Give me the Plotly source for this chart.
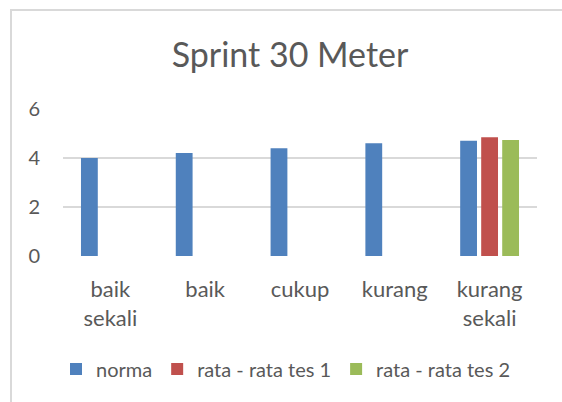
import plotly.graph_objects as go

categories = ["baik<br>sekali", "baik", "cukup", "kurang", "kurang<br>sekali"]
norma = [4.0, 4.2, 4.4, 4.6, 4.7]
tes1 = [None, None, None, None, 4.85]
tes2 = [None, None, None, None, 4.73]
series_names = ["norma", "rata - rata tes 1", "rata - rata tes 2"]
colors = ["#4f81bd", "#c0504d", "#9bbb59"]
y_ticks = [0, 2, 4, 6]

FONT = "Lato, Open Sans, sans-serif"
GREY = "#595959"

fig = go.Figure()
for name, vals, c in zip(series_names, [norma, tes1, tes2], colors):
    fig.add_trace(go.Bar(x=categories, y=vals, name=name, marker_color=c,
                         marker_line_width=0))

W, H = 562, 402
L, R, T, B = 63, 25, 109, 146
pw, ph = W - L - R, H - T - B

fig.update_layout(
    width=W, height=H,
    margin=dict(l=L, r=R, t=T, b=B, autoexpand=False),
    paper_bgcolor="white", plot_bgcolor="white",
    barmode="group", bargap=0.335, bargroupgap=0.2,
    font=dict(family=FONT, size=22, color=GREY),
    title=dict(text="Sprint 30 Meter", x=290 / W, xanchor="center", xref="container",
               y=1 - 55 / H, yanchor="middle", yref="container",
               font=dict(family=FONT, size=34, color=GREY)),
    legend=dict(orientation="h", x=(286 - L) / pw, xanchor="center",
                y=(H - B - 369) / ph, yanchor="middle",
                font=dict(family=FONT, size=20, color=GREY),
                itemwidth=30, tracegroupgap=0),
    showlegend=True,
)
fig.update_xaxes(showgrid=False, showline=False, ticks="", ticklabelstandoff=18,
                 tickfont=dict(family=FONT, size=22, color=GREY))
fig.update_yaxes(range=[0, 6], tickvals=y_ticks, showgrid=True, gridcolor="#d9d9d9",
                 gridwidth=1.5, zeroline=False, showline=False, ticks="",
                 ticklabelstandoff=22,
                 tickfont=dict(family=FONT, size=20, color=GREY))

# outer chart frame
fig.add_shape(type="rect", xref="paper", yref="paper",
              x0=(11 - L) / pw, x1=(W + 20 - L) / pw,
              y0=(H - B - (H + 20)) / ph, y1=(H - B - 10) / ph,
              line=dict(color="#d9d9d9", width=2), fillcolor="rgba(0,0,0,0)",
              layer="below")

fig.write_html("out.html", config={"displayModeBar": False})

# remove the browser's default body margin so the figure sits at (0, 0)
with open("out.html", encoding="utf-8") as f:
    html = f.read()
html = html.replace("<head>", "<head><style>html,body{margin:0;padding:0;overflow:hidden;}</style>", 1)
with open("out.html", "w", encoding="utf-8") as f:
    f.write(html)
